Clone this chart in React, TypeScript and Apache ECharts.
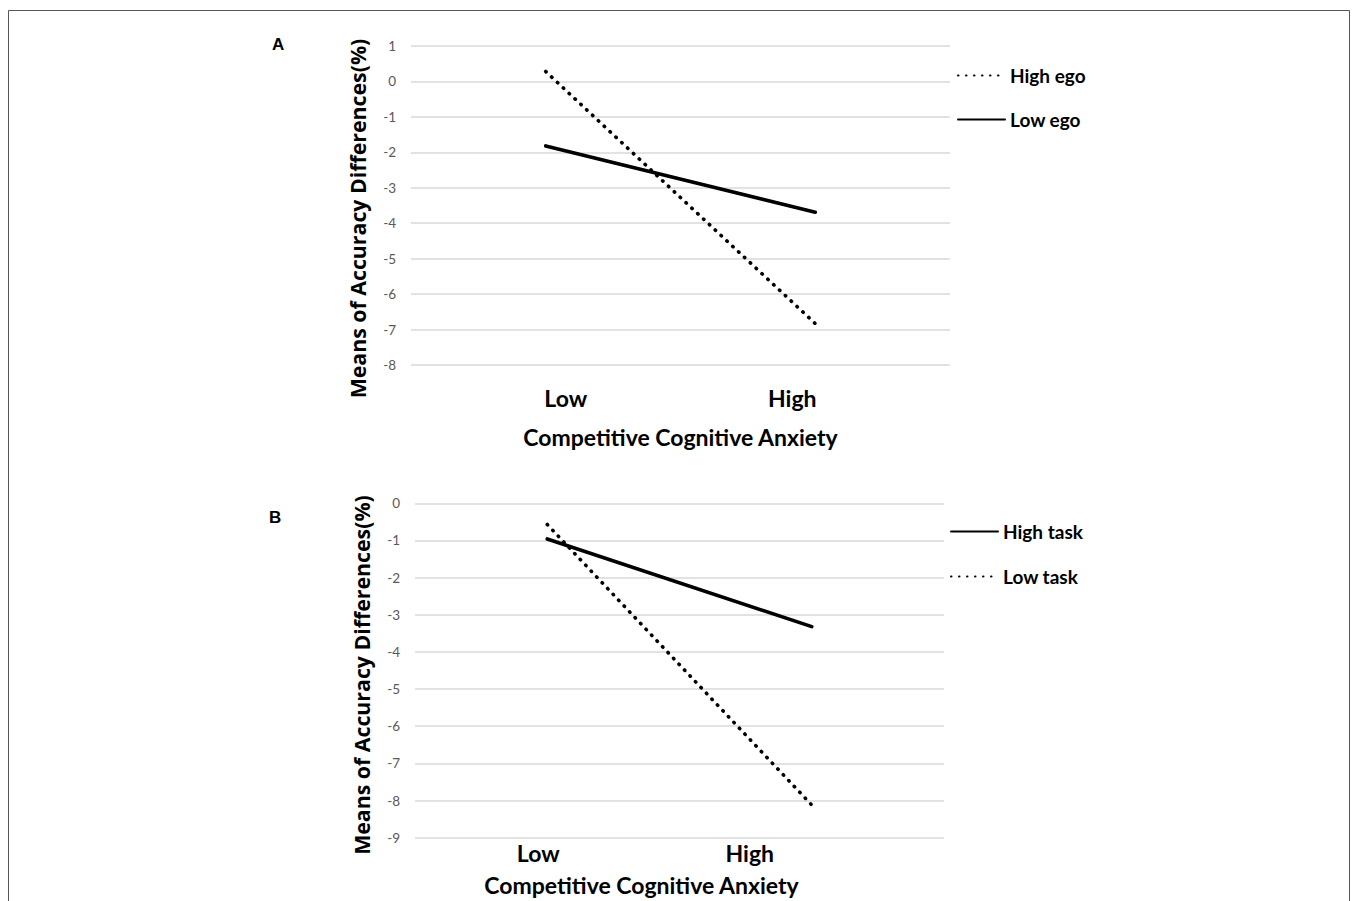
import React, { useEffect, useRef } from "react";
import * as echarts from "echarts";

const categories = ["Low", "High"];
const highEgo = [0.28, -6.83];
const lowEgo = [-1.82, -3.69];
const highTask = [-0.96, -3.32];
const lowTask = [-0.57, -8.12];
const yTicksA = { min: -8, max: 1 };
const yTicksB = { min: -9, max: 0 };

const LABEL_FONT = "Lato";
const TITLE_FONT = "'Open Sans', Lato, sans-serif";

export default function App() {
  const ref = useRef<HTMLDivElement>(null);
  useEffect(() => {
    if (!ref.current) return;
    const chart = echarts.init(ref.current, null, { renderer: "svg" });
    const dotted = { color: "#000", width: 3.6, type: [0.5, 7.5], cap: "round" };
    const solid = { color: "#000", width: 3.6, type: "solid", cap: "round" };
    const bigText = { fontFamily: LABEL_FONT, fontWeight: "bold", fontSize: 23, color: "#000" };
    const xAxis = (gridIndex: number, margin: number, nameGap: number, padR: number, lowPad: number[], highPad: number[]) => ({
      type: "category",
      gridIndex,
      data: categories,
      boundaryGap: true,
      axisLine: { show: false },
      axisTick: { show: false },
      splitLine: { show: false },
      name: "Competitive Cognitive Anxiety",
      nameLocation: "middle",
      nameGap,
      nameTextStyle: { ...bigText, padding: [0, padR, 0, 0] },
      axisLabel: {
        margin,
        formatter: (v: string) => (v === "Low" ? `{l|${v}}` : `{h|${v}}`),
        rich: {
          l: { ...bigText, padding: lowPad },
          h: { ...bigText, padding: highPad },
        },
      },
    });
    const yAxis = (gridIndex: number, t: { min: number; max: number }, padR: number) => ({
      type: "value",
      gridIndex,
      min: t.min,
      max: t.max,
      interval: 1,
      axisLine: { show: false },
      axisTick: { show: false },
      splitLine: { show: true, lineStyle: { color: "#d9d9d9", width: 1.5 } },
      axisLabel: { margin: 15, color: "#595959", fontSize: 13.5, fontFamily: LABEL_FONT },
      name: "Means of Accuracy Differences(%)",
      nameLocation: "middle",
      nameRotate: 90,
      nameGap: 43,
      nameTextStyle: { fontFamily: TITLE_FONT, fontWeight: "bold", fontSize: 21.3, color: "#000", padding: [0, padR, 0, 0] },
    });
    const legendText = { fontFamily: LABEL_FONT, fontWeight: "bold", fontSize: 19, color: "#000" };
    const legendCommon = {
      orient: "vertical",
      itemWidth: 47,
      itemHeight: 4,
      textStyle: legendText,
      itemStyle: { opacity: 0 },
    };
    chart.setOption({
      animation: false,
      backgroundColor: "#fff",
      grid: [
        { left: 411, top: 46, width: 539, height: 319 },
        { left: 415, top: 503.3, width: 529, height: 334.4 },
      ],
      xAxis: [
        xAxis(0, 21, 60, 0, [0, 0, 0, 40], [0, 46, 0, 0]),
        xAxis(1, 4, 36, 76, [0, 18, 0, 0], [0, 124, 0, 0]),
      ],
      yAxis: [yAxis(0, yTicksA, 26), yAxis(1, yTicksB, 9)],
      legend: [
        { ...legendCommon, data: ["High ego", "Low ego"], left: 952, top: 61, itemGap: 25 },
        { ...legendCommon, data: ["High task", "Low task"], left: 945, top: 517, itemGap: 26 },
      ],
      series: [
        { name: "High ego", type: "line", xAxisIndex: 0, yAxisIndex: 0, data: highEgo, symbol: "none", lineStyle: dotted, itemStyle: { color: "#000" } },
        { name: "Low ego", type: "line", xAxisIndex: 0, yAxisIndex: 0, data: lowEgo, symbol: "none", lineStyle: solid, itemStyle: { color: "#000" } },
        { name: "High task", type: "line", xAxisIndex: 1, yAxisIndex: 1, data: highTask, symbol: "none", lineStyle: solid, itemStyle: { color: "#000" } },
        { name: "Low task", type: "line", xAxisIndex: 1, yAxisIndex: 1, data: lowTask, symbol: "none", lineStyle: dotted, itemStyle: { color: "#000" } },
      ],
      graphic: [
        { type: "rect", shape: { x: 8.5, y: 10.5, width: 1341, height: 960 }, style: { fill: "none", stroke: "#555", lineWidth: 1 }, silent: true },
        { type: "text", x: 272, y: 36, style: { text: "A", font: "bold 17px 'Liberation Sans', Arial, sans-serif", fill: "#000" } },
        { type: "text", x: 269, y: 509, style: { text: "B", font: "bold 17px 'Liberation Sans', Arial, sans-serif", fill: "#000" } },
      ],
    });
    return () => chart.dispose();
  }, []);
  return <div ref={ref} style={{ position: "fixed", left: 0, top: 0, width: 1357, height: 901 }} />;
}
